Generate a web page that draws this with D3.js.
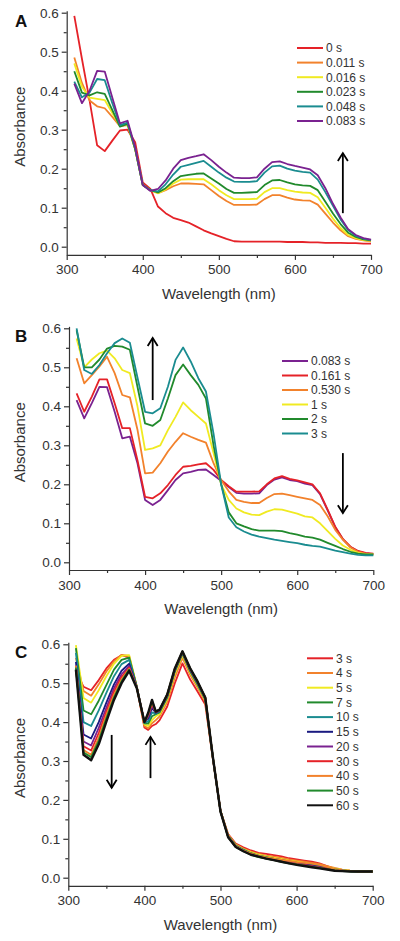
<!DOCTYPE html>
<html><head><meta charset="utf-8">
<script src="https://cdn.jsdelivr.net/npm/d3@7"></script>
<style>
html,body{margin:0;padding:0;background:#fff;}
svg{display:block;font-family:"Liberation Sans",Arial,sans-serif;}
</style></head>
<body>
<svg id="chart" width="400" height="941"></svg>
<script>
// ---------------- DATA ----------------
const xTicks = [300, 400, 500, 600, 700];
const yTicks = [0.0, 0.1, 0.2, 0.3, 0.4, 0.5, 0.6];
const xTitle = "Wavelength (nm)";
const yTitle = "Absorbance";

// Panel A
const wlA = [310,320,330,340,350,360,370,380,390,400,410,420,430,440,450,460,470,480,490,500,510,520,530,540,550,560,570,580,590,600,610,620,630,640,650,660,670,680,690,700];
const labelsA = ["0 s","0.011 s","0.016 s","0.023 s","0.048 s","0.083 s"];
const colorsA = ["#e52228","#f2822c","#f0ea22","#218a2c","#1a8c90","#7a2290"];
const a_0s    = [0.592,0.482,0.376,0.26,0.245,0.272,0.298,0.3,0.268,0.165,0.148,0.103,0.086,0.074,0.068,0.062,0.052,0.042,0.034,0.027,0.02,0.014,0.013,0.013,0.013,0.013,0.013,0.013,0.012,0.012,0.012,0.011,0.011,0.01,0.01,0.01,0.009,0.009,0.008,0.008];
const a_0011s = [0.485,0.42,0.375,0.36,0.355,0.333,0.309,0.312,0.25,0.158,0.145,0.137,0.145,0.155,0.162,0.162,0.161,0.16,0.145,0.13,0.117,0.107,0.107,0.107,0.108,0.122,0.132,0.132,0.126,0.121,0.119,0.118,0.108,0.085,0.062,0.042,0.027,0.02,0.016,0.014];
const a_0016s = [0.47,0.41,0.382,0.379,0.376,0.343,0.31,0.313,0.25,0.158,0.145,0.137,0.147,0.162,0.172,0.173,0.173,0.173,0.16,0.145,0.132,0.122,0.122,0.122,0.123,0.14,0.15,0.15,0.145,0.141,0.139,0.138,0.127,0.1,0.072,0.048,0.03,0.022,0.017,0.015];
const a_0023s = [0.45,0.395,0.388,0.396,0.392,0.35,0.308,0.315,0.25,0.158,0.145,0.139,0.15,0.168,0.181,0.184,0.187,0.188,0.175,0.162,0.148,0.138,0.138,0.139,0.14,0.158,0.17,0.171,0.165,0.16,0.157,0.156,0.145,0.115,0.085,0.058,0.036,0.025,0.019,0.016];
const a_0048s = [0.423,0.383,0.395,0.43,0.427,0.368,0.312,0.318,0.252,0.158,0.145,0.142,0.16,0.185,0.205,0.21,0.215,0.22,0.205,0.19,0.177,0.167,0.166,0.166,0.168,0.19,0.206,0.208,0.2,0.195,0.192,0.19,0.172,0.14,0.105,0.07,0.043,0.028,0.021,0.017];
const a_0083s = [0.418,0.368,0.4,0.451,0.449,0.382,0.316,0.323,0.255,0.158,0.143,0.148,0.17,0.2,0.222,0.228,0.232,0.237,0.222,0.205,0.19,0.177,0.176,0.176,0.178,0.2,0.217,0.219,0.212,0.207,0.203,0.198,0.183,0.15,0.11,0.075,0.045,0.03,0.022,0.018];

// Panel B
const wlB = wlA;
const labelsB = ["0.083 s","0.161 s","0.530 s","1 s","2 s","3 s"];
const colorsB = ["#7a2290","#e52228","#f2822c","#f0ea22","#218a2c","#1a8c90"];
const b_0083s = [0.416,0.369,0.408,0.45,0.449,0.386,0.318,0.322,0.254,0.16,0.147,0.16,0.185,0.211,0.228,0.232,0.237,0.238,0.224,0.209,0.193,0.178,0.176,0.176,0.177,0.198,0.212,0.218,0.211,0.208,0.202,0.198,0.175,0.133,0.09,0.059,0.039,0.028,0.023,0.021];
const b_0161s = [0.433,0.386,0.425,0.469,0.469,0.408,0.344,0.344,0.262,0.168,0.164,0.177,0.198,0.224,0.245,0.247,0.251,0.254,0.237,0.211,0.195,0.181,0.181,0.181,0.182,0.2,0.215,0.221,0.214,0.21,0.205,0.2,0.177,0.135,0.091,0.06,0.04,0.029,0.024,0.022];
const b_0530s = [0.523,0.459,0.48,0.502,0.527,0.485,0.429,0.423,0.34,0.228,0.23,0.254,0.284,0.309,0.331,0.322,0.314,0.307,0.254,0.211,0.182,0.16,0.155,0.152,0.152,0.165,0.175,0.176,0.172,0.168,0.164,0.16,0.147,0.118,0.083,0.058,0.038,0.027,0.022,0.021];
const b_1s    = [0.574,0.5,0.52,0.536,0.543,0.523,0.493,0.485,0.4,0.288,0.292,0.3,0.339,0.373,0.41,0.39,0.373,0.356,0.28,0.2,0.16,0.138,0.128,0.122,0.121,0.13,0.136,0.135,0.13,0.125,0.118,0.115,0.1,0.08,0.06,0.043,0.032,0.024,0.02,0.02];
const b_2s    = [0.595,0.5,0.5,0.52,0.548,0.555,0.553,0.545,0.45,0.356,0.35,0.365,0.42,0.48,0.507,0.48,0.455,0.42,0.3,0.2,0.128,0.1,0.092,0.085,0.081,0.081,0.081,0.08,0.075,0.071,0.066,0.063,0.058,0.05,0.042,0.034,0.027,0.022,0.02,0.02];
const b_3s    = [0.6,0.493,0.483,0.506,0.536,0.562,0.574,0.563,0.474,0.386,0.382,0.395,0.45,0.519,0.551,0.515,0.472,0.438,0.33,0.2,0.115,0.09,0.079,0.071,0.066,0.062,0.058,0.055,0.052,0.049,0.045,0.042,0.04,0.035,0.03,0.026,0.022,0.019,0.018,0.018];

// Panel C
const wlC = [310,320,330,340,350,360,370,380,390,400,405,410,415,420,430,440,450,460,470,480,490,500,510,520,530,540,550,560,570,580,590,600,610,620,630,640,650,660,670,680,690,700];
const labelsC = ["3 s","4 s","5 s","7 s","10 s","15 s","20 s","30 s","40 s","50 s","60 s"];
const colorsC = ["#e52228","#f2822c","#f0ea22","#218a2c","#1a8c90","#1a1a80","#7a2290","#e52228","#f2822c","#218a2c","#111111"];
const c_3s  = [0.53,0.491,0.482,0.508,0.538,0.56,0.572,0.566,0.49,0.386,0.38,0.39,0.395,0.405,0.44,0.5,0.551,0.51,0.478,0.445,0.305,0.172,0.112,0.088,0.078,0.07,0.064,0.061,0.058,0.055,0.05,0.047,0.044,0.041,0.037,0.03,0.023,0.02,0.018,0.017,0.016,0.016];
const c_4s  = [0.565,0.48,0.468,0.497,0.53,0.556,0.573,0.57,0.49,0.39,0.384,0.397,0.405,0.415,0.452,0.515,0.565,0.522,0.488,0.452,0.306,0.172,0.11,0.086,0.075,0.067,0.061,0.057,0.054,0.051,0.047,0.044,0.041,0.038,0.035,0.03,0.025,0.021,0.018,0.017,0.016,0.016];
const c_5s  = [0.598,0.462,0.45,0.482,0.518,0.55,0.57,0.572,0.492,0.394,0.39,0.405,0.415,0.42,0.46,0.525,0.573,0.528,0.493,0.456,0.307,0.172,0.109,0.084,0.073,0.065,0.059,0.055,0.051,0.048,0.044,0.041,0.038,0.035,0.032,0.027,0.023,0.02,0.018,0.017,0.016,0.016];
const c_7s  = [0.59,0.43,0.42,0.455,0.495,0.535,0.56,0.566,0.491,0.397,0.396,0.415,0.42,0.425,0.463,0.53,0.576,0.531,0.496,0.458,0.307,0.172,0.108,0.083,0.072,0.063,0.057,0.053,0.049,0.046,0.042,0.039,0.036,0.033,0.03,0.026,0.022,0.019,0.017,0.016,0.016,0.016];
const c_10s = [0.578,0.4,0.39,0.43,0.475,0.518,0.549,0.56,0.49,0.398,0.402,0.425,0.422,0.428,0.466,0.532,0.578,0.533,0.498,0.46,0.308,0.171,0.107,0.082,0.071,0.062,0.056,0.052,0.048,0.045,0.041,0.038,0.035,0.032,0.029,0.025,0.021,0.019,0.017,0.016,0.016,0.016];
const c_15s = [0.555,0.368,0.358,0.4,0.45,0.497,0.532,0.55,0.49,0.4,0.41,0.436,0.424,0.43,0.468,0.534,0.579,0.535,0.5,0.461,0.308,0.171,0.106,0.081,0.07,0.061,0.055,0.051,0.047,0.044,0.04,0.037,0.034,0.031,0.028,0.024,0.02,0.018,0.017,0.016,0.016,0.016];
const c_20s = [0.545,0.35,0.34,0.385,0.437,0.487,0.523,0.544,0.49,0.4,0.414,0.442,0.425,0.43,0.469,0.535,0.58,0.536,0.501,0.462,0.309,0.171,0.106,0.081,0.07,0.061,0.055,0.05,0.046,0.043,0.039,0.036,0.033,0.03,0.027,0.023,0.02,0.018,0.017,0.016,0.016,0.016];
const c_30s = [0.54,0.338,0.327,0.372,0.427,0.478,0.516,0.54,0.489,0.4,0.418,0.447,0.426,0.431,0.47,0.536,0.58,0.537,0.502,0.462,0.309,0.171,0.105,0.08,0.069,0.06,0.054,0.05,0.046,0.042,0.038,0.035,0.032,0.029,0.026,0.023,0.019,0.018,0.017,0.016,0.016,0.016];
const c_40s = [0.545,0.328,0.316,0.36,0.418,0.47,0.51,0.537,0.488,0.4,0.42,0.451,0.427,0.432,0.47,0.537,0.581,0.538,0.503,0.463,0.31,0.171,0.106,0.081,0.07,0.062,0.056,0.052,0.049,0.046,0.043,0.04,0.038,0.036,0.033,0.028,0.022,0.019,0.017,0.016,0.016,0.016];
const c_50s = [0.54,0.322,0.31,0.352,0.41,0.463,0.505,0.535,0.488,0.4,0.422,0.454,0.427,0.432,0.471,0.537,0.581,0.538,0.503,0.463,0.31,0.17,0.104,0.079,0.068,0.059,0.053,0.049,0.045,0.041,0.037,0.034,0.031,0.028,0.025,0.022,0.019,0.017,0.016,0.016,0.016,0.016];
const c_60s = [0.535,0.316,0.302,0.343,0.401,0.457,0.5,0.532,0.487,0.4,0.424,0.457,0.427,0.432,0.471,0.538,0.582,0.539,0.504,0.463,0.31,0.17,0.104,0.079,0.068,0.059,0.054,0.049,0.045,0.041,0.037,0.033,0.03,0.027,0.024,0.021,0.018,0.017,0.016,0.016,0.016,0.016];

// ---------------- DRAW ----------------
const svg = d3.select("#chart");

function drawPanel(cfg) {
  const yMin = cfg.yMin, yMax = 0.605;
  const x = d3.scaleLinear().domain([300, 700]).range([cfg.x0, cfg.x1]);
  const y = d3.scaleLinear().domain([yMin, yMax])
    .range([cfg.yZero - yMin * cfg.ppu, cfg.yZero - yMax * cfg.ppu]);
  const g = svg.append("g");

  // minor ticks
  g.append("g").attr("transform", `translate(0,${y(yMin)})`)
    .call(d3.axisBottom(x).tickValues([350,450,550,650]).tickSize(3).tickFormat(""))
    .call(a => a.select(".domain").remove());
  g.append("g").attr("transform", `translate(${x(300)},0)`)
    .call(d3.axisLeft(y).tickValues([0.05,0.15,0.25,0.35,0.45,0.55]).tickSize(3).tickFormat(""))
    .call(a => a.select(".domain").remove());

  const xa = g.append("g").attr("transform", `translate(0,${y(yMin)})`)
    .call(d3.axisBottom(x).tickValues(xTicks).tickSize(5).tickPadding(5).tickSizeOuter(0));
  const ya = g.append("g").attr("transform", `translate(${x(300)},0)`)
    .call(d3.axisLeft(y).tickValues(yTicks).tickSize(5).tickPadding(3).tickSizeOuter(0).tickFormat(d3.format(".1f")));
  g.selectAll(".domain, .tick line").attr("stroke", "#333").attr("stroke-width", 1.2);
  [xa, ya].forEach(a => a.selectAll("text").attr("font-size", 13.5).attr("fill", "#333")
    .attr("font-family", '"Liberation Sans",Arial,sans-serif'));

  // axis titles
  g.append("text").attr("x", x(500)).attr("y", y(yMin) + 44)
    .attr("text-anchor", "middle").attr("font-size", 15).attr("fill", "#333").text(xTitle);
  g.append("text").attr("transform", `translate(25,${y(0.3) - 3}) rotate(-90)`)
    .attr("text-anchor", "middle").attr("font-size", 15).attr("fill", "#333").text(yTitle);
  // panel letter
  g.append("text").attr("x", 15).attr("y", y(0.6) + 14).attr("font-size", 17)
    .attr("font-weight", "bold").attr("fill", "#111").text(cfg.letter);

  // lines
  const line = d3.line().x(d => x(d[0])).y(d => y(d[1]));
  cfg.series.forEach((s, i) => {
    g.append("path").datum(cfg.wl.map((w, k) => [w, s[k]]))
      .attr("fill", "none").attr("stroke", cfg.colors[i])
      .attr("stroke-width", cfg.widths ? cfg.widths[i] : 1.8)
      .attr("stroke-linejoin", "round").attr("d", line);
  });

  // legend
  cfg.labels.forEach((lab, i) => {
    const yy = cfg.legY + i * cfg.legDy;
    g.append("line").attr("x1", cfg.legX).attr("x2", cfg.legX + 26)
      .attr("y1", yy).attr("y2", yy).attr("stroke", cfg.colors[i]).attr("stroke-width", 2);
    g.append("text").attr("x", cfg.legX + 29).attr("y", yy).attr("dy", "0.36em")
      .attr("font-size", 12).attr("fill", "#333").text(lab);
  });

  // arrows [wavelength, fromA, toA]
  cfg.arrows.forEach(ar => {
    const ax = x(ar[0]), y1 = y(ar[1]), y2 = y(ar[2]);
    const dir = y2 < y1 ? 1 : -1;
    g.append("line").attr("x1", ax).attr("x2", ax).attr("y1", y1).attr("y2", y2)
      .attr("stroke", "#000").attr("stroke-width", 1.8);
    g.append("path").attr("d", `M${ax - 5},${y2 + dir * 8}L${ax},${y2}L${ax + 5},${y2 + dir * 8}`)
      .attr("fill", "none").attr("stroke", "#000").attr("stroke-width", 1.8);
  });
}

drawPanel({letter: "A", x0: 66.7, x1: 371, yZero: 246.7, ppu: 390, yMin: -0.021,
  wl: wlA, series: [a_0s, a_0011s, a_0016s, a_0023s, a_0048s, a_0083s],
  colors: colorsA, labels: labelsA, legX: 297, legY: 48, legDy: 14.6,
  arrows: [[663, 0.086, 0.24]]});

drawPanel({letter: "B", x0: 69, x1: 373.3, yZero: 562.3, ppu: 390, yMin: -0.0197,
  wl: wlB, series: [b_0083s, b_0161s, b_0530s, b_1s, b_2s, b_3s],
  colors: colorsB, labels: labelsB, legX: 282, legY: 361, legDy: 14.5,
  arrows: [[410, 0.416, 0.575], [660, 0.28, 0.126]]});

drawPanel({letter: "C", x0: 68.3, x1: 372.7, yZero: 877.7, ppu: 389, yMin: -0.021,
  wl: wlC, series: [c_3s, c_4s, c_5s, c_7s, c_10s, c_15s, c_20s, c_30s, c_40s, c_50s, c_60s],
  widths: [1.8,1.8,1.8,1.8,1.8,1.8,1.8,1.8,1.8,1.8,2.4],
  colors: colorsC, labels: labelsC, legX: 307, legY: 658.3, legDy: 14.7,
  arrows: [[357, 0.367, 0.231], [408, 0.256, 0.362]]});
</script>
</body></html>
